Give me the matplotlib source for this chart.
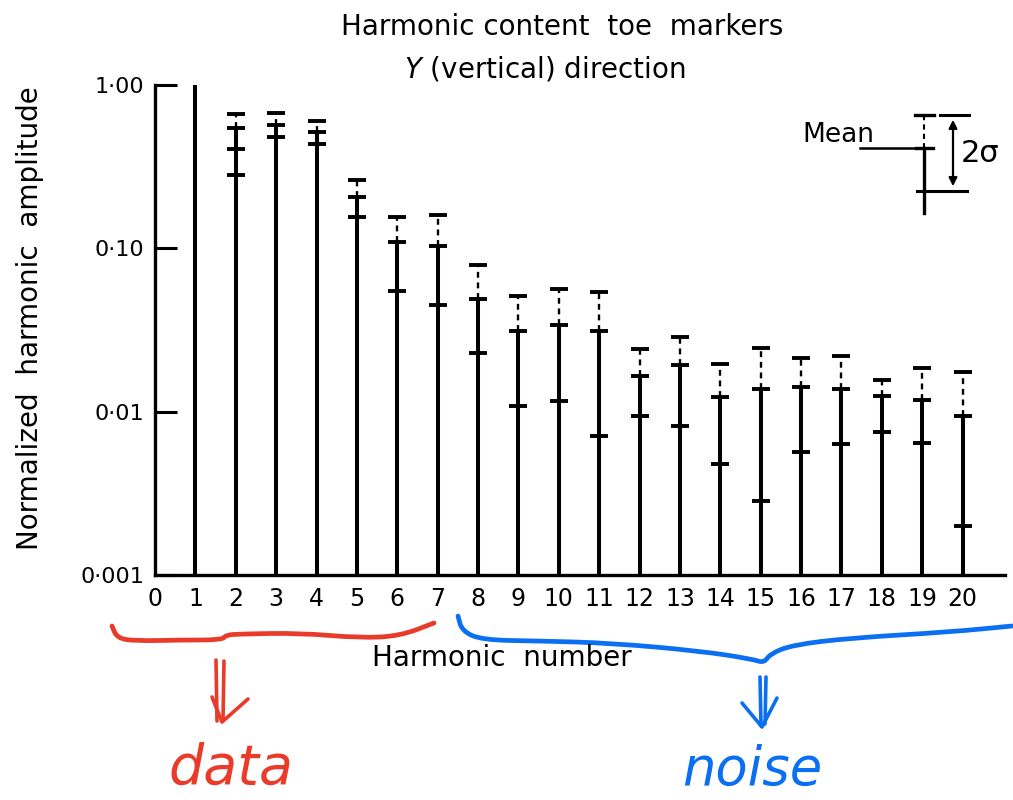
import numpy as np
import matplotlib
matplotlib.use("Agg")
import matplotlib.pyplot as plt
from matplotlib.path import Path
from matplotlib.patches import PathPatch, FancyArrowPatch
from matplotlib.ticker import NullLocator, FixedLocator, FixedFormatter

# ---------------- data ----------------
harmonics = list(range(1, 21))
# mean + sigma (top cap, dashed part ends here); None = no error bar
upper = [None, 0.664, 0.673, 0.604, 0.261, 0.155, 0.161, 0.0791, 0.0514, 0.056,
         0.0538, 0.0241, 0.0286, 0.0195, 0.0244, 0.0212, 0.022, 0.0157, 0.0184, 0.0175]
# mean value (solid bar reaches up to here)
mean = [1.00, 0.544, 0.571, 0.514, 0.206, 0.109, 0.104, 0.0493, 0.0313, 0.034,
        0.0313, 0.0165, 0.0193, 0.0123, 0.0138, 0.0142, 0.0138, 0.0124, 0.0118, 0.00947]
# mean - sigma (lower mark)
lower = [None, 0.406, 0.483, 0.435, 0.155, 0.0547, 0.0453, 0.0230, 0.0108, 0.01156,
         0.00713, 0.00938, 0.00822, 0.00481, 0.00283, 0.0057, 0.00633, 0.00755, 0.00642, 0.0020]
# additional mark seen on harmonic 2 only
extra = [None, 0.283] + [None] * 18

x_ticks = list(range(0, 21))
x_ticklabels = [str(v) for v in x_ticks]
y_ticks = [0.001, 0.01, 0.1, 1.0]
y_ticklabels = ["0·001", "0·01", "0·10", "1·00"]

title1 = "Harmonic content  toe  markers"
title2 = r"$\it{Y}$ (vertical) direction"
xlabel = "Harmonic  number"
ylabel = "Normalized  harmonic  amplitude"

RED = "#EA3A2A"
BLUE = "#0B6FF2"

# ---------------- figure ----------------
W, H = 1013, 800
fig = plt.figure(figsize=(W / 100, H / 100), dpi=100)
plt.rcParams['font.family'] = ['DejaVu Sans']


def fp(x, y):
    return (x / W, 1 - y / H)


ax_l, ax_r, ax_t, ax_b = 155, 1005, 85, 575
ax = fig.add_axes([ax_l / W, 1 - ax_b / H, (ax_r - ax_l) / W, (ax_b - ax_t) / H])
ax.set_yscale("log")
ax.set_ylim(0.001, 1.0)
ax.set_xlim(0, 21.05)

ymin = 0.001
for i, h in enumerate(harmonics):
    m = mean[i]
    ax.plot([h, h], [ymin, m], color="black", lw=2.9, solid_capstyle="butt", zorder=3)
    if upper[i] is not None:
        ax.plot([h, h], [m, upper[i]], color="black", lw=1.7, ls=(0, (2.5, 2)), zorder=3)
        for v in (upper[i], m, lower[i]):
            ax.plot([h], [v], marker="_", ms=13, mew=2.8, color="black", zorder=4)
    if extra[i] is not None:
        ax.plot([h], [extra[i]], marker="_", ms=13, mew=2.8, color="black", zorder=4)

for s in ("top", "right"):
    ax.spines[s].set_visible(False)
for s in ("left", "bottom"):
    ax.spines[s].set_linewidth(2.4)

ax.yaxis.set_major_locator(FixedLocator(y_ticks))
ax.yaxis.set_major_formatter(FixedFormatter(y_ticklabels))
ax.yaxis.set_minor_locator(NullLocator())
ax.set_xticks(x_ticks)
ax.set_xticklabels(x_ticklabels)
ax.tick_params(axis="y", direction="in", length=16, width=2.2, labelsize=16, pad=8)
ax.tick_params(axis="x", length=0, labelsize=17, pad=9)

# titles and labels
fig.text(*fp(562, 27), title1, ha="center", va="center", fontsize=20)
fig.text(*fp(545, 69), title2, ha="center", va="center", fontsize=20)
fig.text(*fp(502, 658), xlabel, ha="center", va="center", fontsize=20)
fig.text(*fp(30, 318), ylabel, ha="center", va="center", fontsize=20, rotation=90)

# ---------------- key (top right) ----------------
def fline(pts, **kw):
    xs = [p[0] / W for p in pts]
    ys = [1 - p[1] / H for p in pts]
    fig.add_artist(plt.Line2D(xs, ys, transform=fig.transFigure, **kw))


fig.text(*fp(838, 135), "Mean", ha="center", va="center", fontsize=19)
fline([(860, 148), (914, 148)], color="black", lw=1.8)
fline([(924, 148), (924, 213)], color="black", lw=2.4)
fline([(924, 115), (924, 148)], color="black", lw=1.5, ls=(0, (2.5, 2)))
fline([(915, 115), (934, 115)], color="black", lw=2.4)
fline([(916, 148), (933, 148)], color="black", lw=2.4)
fline([(917, 191), (967, 191)], color="black", lw=2.2)
fline([(940, 115), (969, 115)], color="black", lw=2.2)
arr = FancyArrowPatch(fp(953, 117), fp(953, 189), transform=fig.transFigure,
                      arrowstyle="<|-|>", mutation_scale=12, color="black", lw=1.6)
fig.add_artist(arr)
fig.text(*fp(980, 153), "2σ", ha="center", va="center", fontsize=22)

# ---------------- hand-drawn annotations ----------------
def smooth_path(pts):
    pts = [fp(*p) for p in pts]
    verts = [pts[0]]
    codes = [Path.MOVETO]
    mids = [((pts[k][0] + pts[k + 1][0]) / 2, (pts[k][1] + pts[k + 1][1]) / 2)
            for k in range(len(pts) - 1)]
    verts.append(mids[0]); codes.append(Path.LINETO)
    for k in range(1, len(pts) - 1):
        verts += [pts[k], mids[k]]
        codes += [Path.CURVE3, Path.CURVE3]
    verts.append(pts[-1]); codes.append(Path.LINETO)
    return Path(verts, codes)


red_brace = [(112, 626), (117, 638), (135, 641), (180, 640), (222, 640), (226, 635),
             (240, 634), (300, 633), (360, 638), (400, 636), (434, 623)]
blue_brace = [(458, 616), (462, 631), (482, 640), (540, 641), (610, 643), (700, 651),
              (752, 659), (764, 663), (770, 654), (792, 645), (850, 638), (950, 632), (1012, 626)]
for pts, col in ((red_brace, RED), (blue_brace, BLUE)):
    fig.add_artist(PathPatch(smooth_path(pts), transform=fig.transFigure, fill=False,
                             edgecolor=col, lw=3.4, capstyle="round", joinstyle="round"))

# double arrows
fline([(216, 660), (217, 721)], color=RED, lw=2.6, solid_capstyle="round")
fline([(224, 661), (223, 720)], color=RED, lw=2.6, solid_capstyle="round")
fline([(212, 697), (222, 722), (248, 699)], color=RED, lw=2.6,
      solid_capstyle="round", solid_joinstyle="round")
fline([(760, 677), (761, 726)], color=BLUE, lw=2.6, solid_capstyle="round")
fline([(766, 677), (765, 724)], color=BLUE, lw=2.6, solid_capstyle="round")
fline([(742, 703), (762, 727), (777, 698)], color=BLUE, lw=2.6,
      solid_capstyle="round", solid_joinstyle="round")

fig.text(*fp(231, 768), "data", ha="center", va="center", fontsize=40,
         color=RED, style="italic")
fig.text(*fp(752, 770), "noise", ha="center", va="center", fontsize=38,
         color=BLUE, style="italic")

fig.savefig("out.png", dpi=100)
